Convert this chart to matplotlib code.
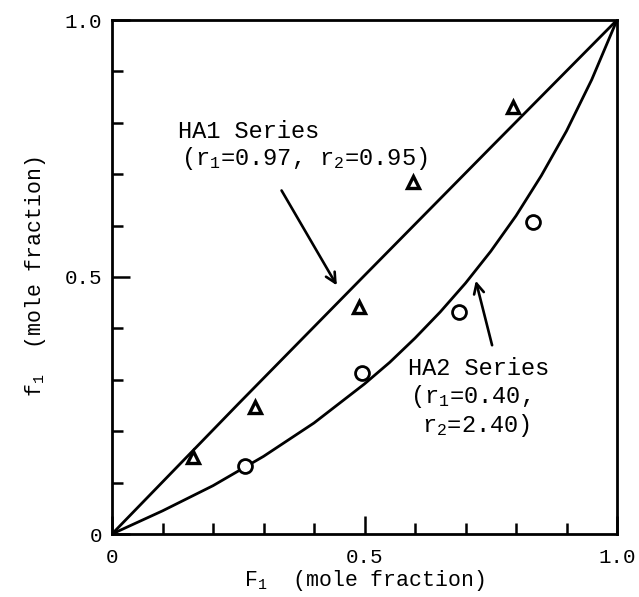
import matplotlib
matplotlib.use("Agg")
import matplotlib.pyplot as plt
import numpy as np

plt.rcParams['font.family'] = ['Liberation Mono', 'DejaVu Sans']
plt.rcParams['mathtext.fontset'] = 'custom'
plt.rcParams['mathtext.rm'] = 'Liberation Mono'
plt.rcParams['mathtext.it'] = 'Liberation Mono'
plt.rcParams['mathtext.default'] = 'regular'

# measured points
ha1_F = [0.16, 0.283, 0.489, 0.596, 0.794]
ha1_f = [0.15, 0.247, 0.442, 0.685, 0.831]
ha2_F = [0.263, 0.495, 0.687, 0.834]
ha2_f = [0.132, 0.313, 0.432, 0.607]

# fitted curves
ha1_curve_x = [0.0, 0.25, 0.5, 0.75, 1.0]
ha1_curve_y = [0.0, 0.253, 0.503, 0.752, 1.0]
ha2_curve_x = [0.0, 0.1, 0.2, 0.3, 0.4, 0.5, 0.55, 0.6, 0.65, 0.7, 0.75, 0.8, 0.85, 0.9, 0.95, 1.0]
ha2_curve_y = [0.0, 0.045, 0.094, 0.151, 0.216, 0.292, 0.334, 0.381, 0.432, 0.488, 0.55, 0.619, 0.697, 0.784, 0.884, 1.0]

tick_pos = [0, 0.5, 1.0]
xtick_lbl = ['0', '0.5', '1.0']
ytick_lbl = ['0', '0.5', '1.0']

fig = plt.figure(figsize=(6.39, 5.97), dpi=100)
ax = fig.add_axes([112/639, 63/597, 505/639, 514/597])

ax.plot(ha1_curve_x, ha1_curve_y, color='black', lw=2.0, solid_capstyle='round')
ax.plot(ha2_curve_x, ha2_curve_y, color='black', lw=2.0, solid_capstyle='round')
ax.plot(ha1_F, ha1_f, ls='none', marker='^', ms=8, mfc='white', mec='black', mew=2.4, zorder=3)
ax.plot(ha2_F, ha2_f, ls='none', marker='o', ms=10, mfc='white', mec='black', mew=2.0, zorder=3)

ax.set_xlim(0, 1)
ax.set_ylim(0, 1)
ax.set_xticks(tick_pos)
ax.set_xticklabels(xtick_lbl, fontsize=15)
ax.set_yticks(tick_pos)
ax.set_yticklabels(ytick_lbl, fontsize=15)
ax.set_xticks(np.arange(0.1, 1.0, 0.1), minor=True)
ax.set_yticks(np.arange(0.1, 1.0, 0.1), minor=True)
ax.tick_params(which='major', direction='in', length=13, width=1.8)
ax.tick_params(axis='x', which='major', pad=10)
ax.tick_params(axis='y', which='major', pad=7)
ax.tick_params(which='minor', direction='in', length=8, width=1.8)
for s in ax.spines.values():
    s.set_linewidth(2.0)

ax.set_xlabel(r'$F_1$  (mole fraction)', fontsize=15.5, labelpad=1)
ax.set_ylabel(r'$f_1$  (mole fraction)', fontsize=15.5, labelpad=12)

# labels and arrows
ax.text(0.131, 0.770, 'HA1 Series', fontsize=17)
ax.text(0.137, 0.718, r'($r_1$=0.97, $r_2$=0.95)', fontsize=17)
ax.annotate('', xy=(0.448, 0.479), xytext=(0.333, 0.673),
            arrowprops=dict(arrowstyle='->', lw=1.9, color='black', mutation_scale=18))
ax.text(0.586, 0.309, 'HA2 Series', fontsize=17)
ax.text(0.590, 0.255, r'($r_1$=0.40,', fontsize=17)
ax.text(0.614, 0.198, r'$r_2$=2.40)', fontsize=17)
ax.annotate('', xy=(0.719, 0.498), xytext=(0.754, 0.362),
            arrowprops=dict(arrowstyle='->', lw=1.9, color='black', mutation_scale=18))

fig.savefig('out.png', dpi=100)
